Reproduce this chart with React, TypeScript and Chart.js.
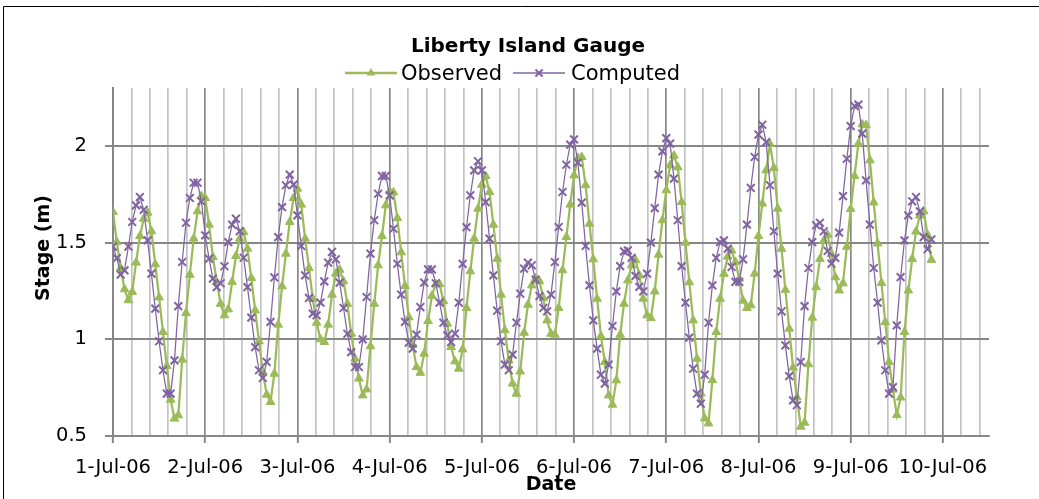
import React, { useEffect, useRef } from 'react';
import { Chart, registerables } from 'chart.js';

Chart.register(...registerables);

// ---- data (hourly samples starting 1-Jul-06 00:00) ----
const DATE_LABELS = ['1-Jul-06', '2-Jul-06', '3-Jul-06', '4-Jul-06', '5-Jul-06', '6-Jul-06', '7-Jul-06', '8-Jul-06', '9-Jul-06', '10-Jul-06'];
const Y_TICKS = [0.5, 1, 1.5, 2];
const Y_TICK_LABELS = ['0.5', '1', '1.5', '2'];
const HOURS_PER_DAY = 24;

const OBSERVED = [
  1.659, 1.503, 1.369, 1.259, 1.202, 1.245, 1.397, 1.534, 1.624, 1.655,
  1.559, 1.388, 1.217, 1.038, 0.862, 0.688, 0.59, 0.607, 0.895, 1.136,
  1.334, 1.521, 1.662, 1.741, 1.731, 1.593, 1.426, 1.297, 1.184, 1.124,
  1.155, 1.297, 1.431, 1.521, 1.555, 1.469, 1.317, 1.15, 0.99, 0.831,
  0.714, 0.676, 0.822, 1.076, 1.274, 1.443, 1.607, 1.731, 1.779, 1.697,
  1.521, 1.369, 1.21, 1.086, 1.0, 0.986, 1.076, 1.231, 1.34, 1.36,
  1.3, 1.184, 1.029, 0.9, 0.797, 0.71, 0.741, 0.964, 1.184, 1.383,
  1.534, 1.693, 1.766, 1.76, 1.627, 1.45, 1.276, 1.114, 0.97, 0.856,
  0.827, 0.926, 1.095, 1.225, 1.285, 1.285, 1.197, 1.081, 0.96, 0.886,
  0.848, 0.948, 1.162, 1.352, 1.521, 1.676, 1.8, 1.845, 1.762, 1.593,
  1.417, 1.231, 1.047, 0.891, 0.771, 0.719, 0.834, 1.034, 1.179, 1.279,
  1.317, 1.3, 1.214, 1.098, 1.029, 1.024, 1.162, 1.357, 1.529, 1.697,
  1.848, 1.938, 1.943, 1.797, 1.598, 1.414, 1.21, 1.017, 0.883, 0.71,
  0.662, 0.788, 1.024, 1.184, 1.305, 1.383, 1.409, 1.331, 1.21, 1.124,
  1.11, 1.248, 1.438, 1.616, 1.771, 1.9, 1.95, 1.89, 1.71, 1.5,
  1.295, 1.098, 0.9, 0.72, 0.591, 0.565, 0.789, 1.038, 1.21, 1.339,
  1.428, 1.459, 1.4, 1.314, 1.2, 1.162, 1.176, 1.34, 1.534, 1.702,
  1.874, 2.01, 1.886, 1.676, 1.468, 1.256, 1.055, 0.854, 0.7, 0.548,
  0.569, 0.871, 1.112, 1.27, 1.416, 1.51, 1.541, 1.442, 1.321, 1.253,
  1.29, 1.479, 1.674, 1.845, 2.012, 2.112, 2.108, 1.926, 1.708, 1.496,
  1.292, 1.089, 0.883, 0.74, 0.608, 0.699, 1.038, 1.253, 1.416, 1.558,
  1.64, 1.662, 1.541, 1.411,
];

const COMPUTED = [
  1.48, 1.42, 1.335, 1.357, 1.48, 1.607, 1.693, 1.736, 1.67, 1.512,
  1.34, 1.159, 0.99, 0.84, 0.719, 0.719, 0.891, 1.172, 1.4, 1.603,
  1.731, 1.81, 1.81, 1.714, 1.538, 1.417, 1.314, 1.27, 1.29, 1.378,
  1.503, 1.593, 1.624, 1.56, 1.422, 1.27, 1.112, 0.96, 0.84, 0.8,
  0.883, 1.09, 1.32, 1.529, 1.684, 1.797, 1.852, 1.8, 1.641, 1.483,
  1.331, 1.214, 1.133, 1.124, 1.19, 1.3, 1.397, 1.452, 1.414, 1.293,
  1.162, 1.029, 0.934, 0.857, 0.857, 1.0, 1.219, 1.443, 1.616, 1.753,
  1.845, 1.845, 1.745, 1.572, 1.391, 1.231, 1.09, 0.983, 0.952, 1.024,
  1.167, 1.293, 1.362, 1.362, 1.29, 1.19, 1.086, 1.02, 0.986, 1.03,
  1.19, 1.39, 1.58, 1.745, 1.874, 1.921, 1.874, 1.71, 1.521, 1.331,
  1.148, 0.99, 0.869, 0.84, 0.921, 1.086, 1.236, 1.366, 1.397, 1.383,
  1.309, 1.224, 1.162, 1.145, 1.231, 1.4, 1.581, 1.762, 1.903, 2.007,
  2.034, 1.914, 1.707, 1.483, 1.279, 1.098, 0.952, 0.817, 0.771, 0.869,
  1.069, 1.248, 1.379, 1.455, 1.46, 1.421, 1.328, 1.271, 1.248, 1.34,
  1.5, 1.679, 1.852, 1.972, 2.041, 2.012, 1.831, 1.616, 1.379, 1.19,
  1.009, 0.848, 0.719, 0.667, 0.817, 1.086, 1.279, 1.421, 1.503, 1.512,
  1.469, 1.374, 1.297, 1.297, 1.414, 1.593, 1.783, 1.943, 2.059, 2.11,
  2.02, 1.797, 1.559, 1.34, 1.145, 0.969, 0.81, 0.684, 0.659, 0.883,
  1.172, 1.369, 1.503, 1.59, 1.603, 1.559, 1.457, 1.391, 1.421, 1.552,
  1.741, 1.934, 2.103, 2.207, 2.214, 2.064, 1.822, 1.593, 1.369, 1.19,
  0.995, 0.84, 0.719, 0.753, 1.072, 1.322, 1.512, 1.641, 1.714, 1.736,
  1.662, 1.529, 1.466, 1.517,
];

const GREEN = '#9BBB59';
const PURPLE = '#8064A2';
const MAJOR = '#878787';
const MINOR = '#c3c3c3';
const FONT = '"DejaVu Sans", sans-serif';

function drawTriangle(ctx: CanvasRenderingContext2D, x: number, y: number, r: number) {
  ctx.beginPath();
  ctx.moveTo(x, y - r);
  ctx.lineTo(x + r * 0.866, y + r * 0.5);
  ctx.lineTo(x - r * 0.866, y + r * 0.5);
  ctx.closePath();
  ctx.fill();
}

function drawCross(ctx: CanvasRenderingContext2D, x: number, y: number, r: number) {
  const d = r * 0.7071;
  ctx.beginPath();
  ctx.moveTo(x - d, y - d);
  ctx.lineTo(x + d, y + d);
  ctx.moveTo(x + d, y - d);
  ctx.lineTo(x - d, y + d);
  ctx.stroke();
}

const decorPlugin = {
  id: 'decor',
  beforeDraw(chart: any) {
    const { ctx, width, height } = chart;
    ctx.save();
    ctx.fillStyle = '#ffffff';
    ctx.fillRect(0, 0, width, height);
    ctx.strokeStyle = '#000000';
    ctx.lineWidth = 1;
    ctx.beginPath();
    ctx.moveTo(3.5, height);
    ctx.lineTo(3.5, 6.5);
    ctx.lineTo(width, 6.5);
    ctx.stroke();
    ctx.restore();
  },
  afterDraw(chart: any) {
    const { ctx, chartArea } = chart;
    ctx.save();
    // title
    ctx.fillStyle = '#000';
    ctx.textAlign = 'center';
    ctx.textBaseline = 'alphabetic';
    ctx.font = `bold 20px ${FONT}`;
    ctx.fillText('Liberty Island Gauge', 528, 52);

    // legend
    const ly = 73;
    ctx.lineCap = 'butt';
    ctx.strokeStyle = GREEN;
    ctx.lineWidth = 2.5;
    ctx.beginPath();
    ctx.moveTo(345, ly);
    ctx.lineTo(397, ly);
    ctx.stroke();
    ctx.fillStyle = GREEN;
    drawTriangle(ctx, 371, ly, 5);
    ctx.strokeStyle = PURPLE;
    ctx.lineWidth = 1.5;
    ctx.beginPath();
    ctx.moveTo(513, ly);
    ctx.lineTo(565, ly);
    ctx.stroke();
    ctx.lineWidth = 2;
    drawCross(ctx, 539, ly, 5);

    ctx.fillStyle = '#000';
    ctx.textAlign = 'left';
    ctx.font = `21px ${FONT}`;
    ctx.fillText('Observed', 401, 80);
    ctx.fillText('Computed', 571, 80);

    // axis titles
    ctx.font = `bold 19px ${FONT}`;
    ctx.textAlign = 'center';
    ctx.fillText('Date', (chartArea.left + chartArea.right) / 2, 490);
    ctx.translate(44, 248);
    ctx.rotate(-Math.PI / 2);
    ctx.textBaseline = 'middle';
    ctx.fillText('Stage (m)', 0, 0);
    ctx.restore();
  },
};

export default function App() {
  const ref = useRef<HTMLCanvasElement>(null);

  useEffect(() => {
    const canvas = ref.current;
    if (!canvas) return;
    const toPoints = (arr: number[]) => arr.map((y, i) => ({ x: i / HOURS_PER_DAY, y }));
    const gridX: number[] = [];
    for (let k = 0; k <= 47; k++) gridX.push(k / 5);
    const isMajor = (v: number) => Math.abs(v - Math.round(v)) < 1e-6;

    const chart = new Chart(canvas, {
      type: 'line',
      data: {
        datasets: [
          {
            label: 'Observed',
            data: toPoints(OBSERVED),
            order: 1,
            borderColor: GREEN,
            backgroundColor: GREEN,
            borderWidth: 2.25,
            pointStyle: 'triangle',
            pointRadius: 5,
            pointBackgroundColor: GREEN,
            pointBorderColor: GREEN,
            pointBorderWidth: 1,
            tension: 0,
          },
          {
            label: 'Computed',
            data: toPoints(COMPUTED),
            order: 0,
            borderColor: PURPLE,
            backgroundColor: PURPLE,
            borderWidth: 1.25,
            pointStyle: 'crossRot',
            pointRadius: 5.5,
            pointBorderWidth: 2,
            pointBorderColor: PURPLE,
            pointBackgroundColor: PURPLE,
            tension: 0,
          },
        ],
      },
      options: {
        responsive: false,
        animation: false,
        devicePixelRatio: 1,
        events: [],
        layout: { padding: { top: 88, right: 50, left: 0, bottom: 0 } },
        plugins: {
          legend: { display: false },
          title: { display: false },
          tooltip: { enabled: false },
        },
        scales: {
          x: {
            type: 'linear',
            min: 0,
            max: 9.5,
            afterBuildTicks: (s: any) => {
              s.ticks = gridX.map((v) => ({ value: v }));
            },
            afterFit: (s: any) => {
              s.height = 63;
            },
            grid: {
              color: (c: any) => (c.tick && isMajor(c.tick.value) ? MAJOR : MINOR),
              lineWidth: 1.7,
              tickLength: 7,
              tickColor: (c: any) => (c.tick && isMajor(c.tick.value) ? MAJOR : 'rgba(0,0,0,0)'),
              tickWidth: 2,
            },
            border: { display: true, color: MAJOR, width: 2 },
            ticks: {
              autoSkip: false,
              maxRotation: 0,
              minRotation: 0,
              padding: 13,
              color: '#000',
              font: { family: FONT, size: 19.5 },
              callback: (v: any) => (isMajor(Number(v)) ? DATE_LABELS[Math.round(Number(v))] ?? '' : ''),
            },
          },
          y: {
            type: 'linear',
            min: 0.5,
            max: 2.3,
            afterBuildTicks: (s: any) => {
              s.ticks = Y_TICKS.map((v) => ({ value: v }));
            },
            afterFit: (s: any) => {
              s.width = 113;
            },
            grid: { color: MAJOR, lineWidth: 2, tickLength: 8 },
            border: { display: true, color: MAJOR, width: 2 },
            ticks: {
              padding: 18,
              color: '#000',
              font: { family: FONT, size: 19.5 },
              callback: (v: any) => {
                const i = Y_TICKS.indexOf(Number(v));
                return i >= 0 ? Y_TICK_LABELS[i] : '';
              },
            },
          },
        },
      },
      plugins: [decorPlugin],
    } as any);

    return () => chart.destroy();
  }, []);

  return (
    <div style={{ position: 'fixed', left: 0, top: 0, width: 1039, height: 499, background: '#fff' }}>
      <canvas ref={ref} width={1039} height={499} style={{ display: 'block', width: 1039, height: 499 }} />
    </div>
  );
}
